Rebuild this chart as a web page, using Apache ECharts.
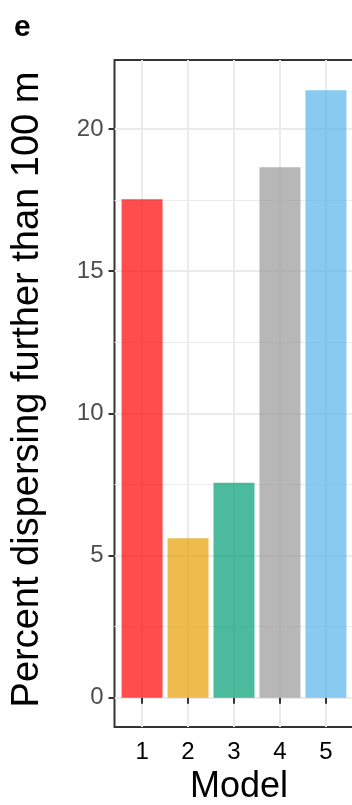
<!DOCTYPE html>
<html>
<head>
<meta charset="utf-8">
<script src="https://cdn.jsdelivr.net/npm/echarts@6/dist/echarts.min.js"></script>
<style>
  html, body { margin: 0; padding: 0; background: #ffffff; overflow: hidden; }
  #chart { width: 420px; height: 805px; }
</style>
</head>
<body>
<div id="chart"></div>
<script>
// Dispersal model comparison: share of individuals travelling beyond 100 m
const models = [1, 2, 3, 4, 5];
const percentFurther = [17.53, 5.61, 7.56, 18.66, 21.37];
const barColors = ['#FF0000', '#E69F00', '#009E73', '#999999', '#56B4E9'];
const yMajorTicks = [0, 5, 10, 15, 20];
const yMinorTicks = [2.5, 7.5, 12.5, 17.5];

const FONT = '"Liberation Sans", Arial, Helvetica, sans-serif';

const chart = echarts.init(document.getElementById('chart'), null, { renderer: 'canvas' });

const barData = models.map((m, i) => ({
  value: [m, percentFurther[i]],
  itemStyle: { color: barColors[i], opacity: 0.7 }
}));

chart.setOption({
  animation: false,
  backgroundColor: '#ffffff',
  title: {
    text: 'e',
    left: 9,
    top: 8,
    textStyle: { fontFamily: FONT, fontSize: 30, fontWeight: 'bold', color: '#000000' }
  },
  grid: {
    left: 114.5,
    top: 60,
    width: 239,
    height: 667,
    show: true,
    borderColor: '#333333',
    borderWidth: 2,
    backgroundColor: 'transparent',
    containLabel: false,
    outerBoundsMode: 'none'
  },
  xAxis: {
    type: 'value',
    min: 0.4,
    max: 5.6,
    name: 'Model',
    nameLocation: 'middle',
    nameGap: 42,
    nameTextStyle: { fontFamily: FONT, fontSize: 36, color: '#000000', padding: [0, 0, 0, 10] },
    axisLine: { show: false },
    axisTick: {
      show: true, length: 6, inside: false,
      customValues: models,
      lineStyle: { color: '#333333', width: 2 }
    },
    axisLabel: {
      customValues: models,
      margin: 13,
      fontFamily: FONT, fontSize: 24, color: '#000000'
    },
    splitLine: { show: true, lineStyle: { color: '#EBEBEB', width: 2 } }
  },
  yAxis: [
    {
      type: 'value',
      min: -1.03,
      max: 22.43,
      name: 'Percent dispersing further than 100 m',
      nameLocation: 'middle',
      nameRotate: 90,
      nameGap: 68,
      nameTextStyle: { fontFamily: FONT, fontSize: 38, color: '#000000', padding: [0, 0, 0, 8] },
      axisLine: { show: false },
      axisTick: {
        show: true, length: 6, inside: false,
        customValues: yMajorTicks,
        lineStyle: { color: '#333333', width: 2 }
      },
      axisLabel: {
        customValues: yMajorTicks,
        margin: 11,
        fontFamily: FONT, fontSize: 24, color: '#4D4D4D'
      },
      splitLine: { show: true, lineStyle: { color: '#EBEBEB', width: 2 } }
    },
    {
      type: 'value',
      min: -1.03,
      max: 22.43,
      position: 'left',
      axisLine: { show: false },
      axisTick: { show: false, customValues: yMinorTicks },
      axisLabel: { show: false, customValues: yMinorTicks },
      splitLine: { show: true, lineStyle: { color: '#EBEBEB', width: 1 } }
    }
  ],
  series: [
    {
      type: 'bar',
      yAxisIndex: 0,
      barWidth: 41,
      data: barData
    }
  ]
});
</script>
</body>
</html>
